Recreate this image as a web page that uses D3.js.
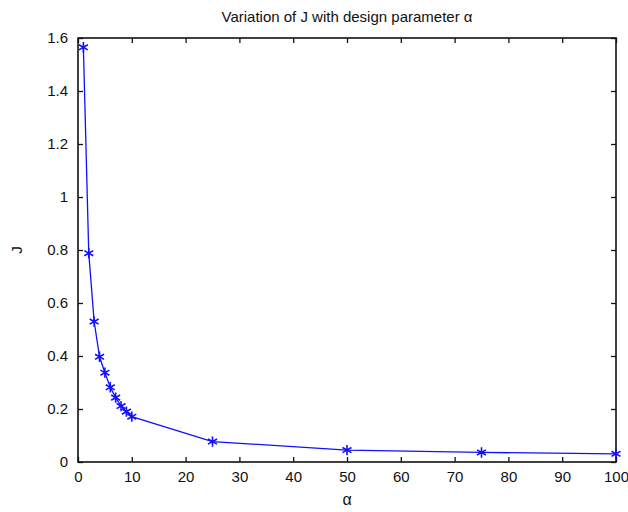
<!DOCTYPE html>
<html>
<head>
<meta charset="utf-8">
<script src="https://cdn.jsdelivr.net/npm/d3@7"></script>
<style>
  body { margin: 0; background: #fff; }
  text { font-family: "Liberation Sans", Arial, sans-serif; }
</style>
</head>
<body>
<div id="chart"></div>
<script>
const width = 628;
const height = 512;

// values
const alphaValues = [1, 2, 3, 4, 5, 6, 7, 8, 9, 10, 25, 50, 75, 100];
const jValues = [1.565, 0.788, 0.53, 0.397, 0.337, 0.282, 0.243, 0.211, 0.19, 0.171, 0.077, 0.045, 0.036, 0.031];
const xTicks = [0, 10, 20, 30, 40, 50, 60, 70, 80, 90, 100];
const yTicks = [0, 0.2, 0.4, 0.6, 0.8, 1, 1.2, 1.4, 1.6];

const margin = { top: 38, right: 12, bottom: 50, left: 78 };
const x0 = margin.left, x1 = width - margin.right;
const y0 = height - margin.bottom, y1 = margin.top;

const svg = d3
  .select("#chart")
  .append("svg")
  .attr("width", width)
  .attr("height", height);

const x = d3.scaleLinear().domain([0, 100]).range([x0, x1]);
const y = d3.scaleLinear().domain([0, 1.6]).range([y0, y1]);

const tickSize = 5;

// bottom axis, ticks pointing in
svg.append("g")
  .attr("transform", `translate(0,${y0})`)
  .call(d3.axisBottom(x).tickValues(xTicks).tickSize(-tickSize).tickPadding(9).tickFormat(d3.format("d")))
  .call((g) => g.select(".domain").remove())
  .call((g) => g.selectAll("text").attr("font-size", 15).attr("fill", "#111"));

// top mirrored ticks
svg.append("g")
  .attr("transform", `translate(0,${y1})`)
  .call(d3.axisTop(x).tickValues(xTicks).tickSize(-tickSize).tickFormat(""))
  .call((g) => g.select(".domain").remove());

// left axis
svg.append("g")
  .attr("transform", `translate(${x0},0)`)
  .call(d3.axisLeft(y).tickValues(yTicks).tickSize(-tickSize).tickPadding(10).tickFormat((d) => d3.format("")(+d.toFixed(1))))
  .call((g) => g.select(".domain").remove())
  .call((g) => g.selectAll("text").attr("font-size", 15).attr("fill", "#111"));

// right mirrored ticks
svg.append("g")
  .attr("transform", `translate(${x1},0)`)
  .call(d3.axisRight(y).tickValues(yTicks).tickSize(-tickSize).tickFormat(""))
  .call((g) => g.select(".domain").remove());

svg.selectAll(".tick line").attr("stroke", "#111").attr("stroke-width", 1.3);

// frame
svg.append("rect")
  .attr("x", x0)
  .attr("y", y1)
  .attr("width", x1 - x0)
  .attr("height", y0 - y1)
  .attr("fill", "none")
  .attr("stroke", "#111")
  .attr("stroke-width", 1.6);

const points = alphaValues.map((a, i) => ({ a, j: jValues[i] }));

const line = d3.line().x((d) => x(d.a)).y((d) => y(d.j));

svg.append("path")
  .datum(points)
  .attr("d", line)
  .attr("fill", "none")
  .attr("stroke", "#1010ff")
  .attr("stroke-width", 1.3);

// asterisk markers
const star = d3.symbol().type(d3.symbolAsterisk).size(75);
svg.append("g")
  .selectAll("path")
  .data(points)
  .join("path")
  .attr("transform", (d) => `translate(${x(d.a)},${y(d.j)})`)
  .attr("d", star)
  .attr("fill", "none")
  .attr("stroke", "#1010ff")
  .attr("stroke-width", 1.6);

// title and labels
svg.append("text")
  .attr("x", (x0 + x1) / 2)
  .attr("y", 22)
  .attr("text-anchor", "middle")
  .attr("font-size", 15)
  .attr("fill", "#111")
  .text("Variation of J with design parameter α");

svg.append("text")
  .attr("x", (x0 + x1) / 2)
  .attr("y", 505)
  .attr("text-anchor", "middle")
  .attr("font-size", 16)
  .attr("fill", "#111")
  .text("α");

svg.append("text")
  .attr("transform", `translate(22,${(y0 + y1) / 2}) rotate(-90)`)
  .attr("text-anchor", "middle")
  .attr("font-size", 15)
  .attr("fill", "#111")
  .text("J");
</script>
</body>
</html>
